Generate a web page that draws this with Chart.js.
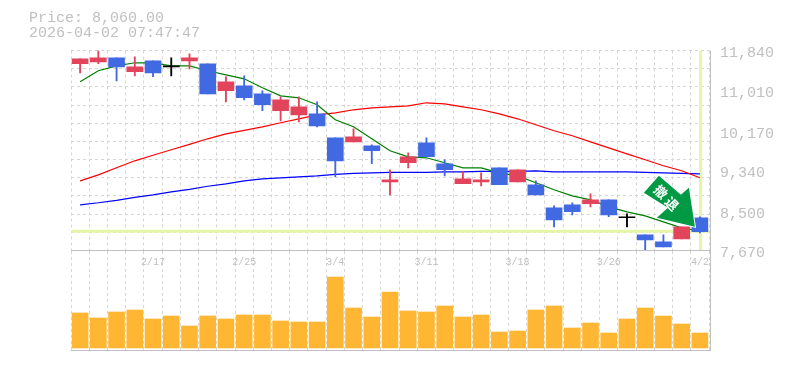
<!DOCTYPE html>
<html lang="en">
<head>
    <meta charset="UTF-8">
    <title>Price chart</title>
    <script src="https://cdn.jsdelivr.net/npm/chart.js"></script>
    <style>
    body { margin: 0; background: #ffffff; }
    #wrap { position: relative; width: 785px; height: 370px; overflow: hidden; }
    canvas { position: absolute; left: 0; top: 0; }
    #head {
        position: absolute; left: 29px; top: 11px; z-index: 3;
        font: 15px/15px "Liberation Mono", monospace;
        color: #c0c0c0; white-space: pre;
    }
    </style>
</head>
<body>
<div id="wrap">
    <canvas id="volumeChart" width="785" height="370"></canvas>
    <canvas id="priceChart" width="785" height="275"></canvas>
    <div id="head">Price: 8,060.00
2026-04-02 07:47:47</div>
</div>
<script>
const dates = ['2/10','2/12','2/13','2/16','2/17','2/18','2/19','2/20','2/24','2/25','2/26','2/27','3/2','3/3','3/4','3/5','3/6','3/9','3/10','3/11','3/12','3/13','3/16','3/17','3/18','3/19','3/23','3/24','3/25','3/26','3/27','3/30','3/31','4/1','4/2'];
const dateTicks = ['2/17','2/25','3/4','3/11','3/18','3/26','4/2'];

const opens  = [11563,11604,11688,11396,11625,11500,11625,11563,11000,11104,10937,10583,10499,10520,10020,9936,9853,9102,9499,9915,9478,9061,9102,9394,9102,9040,8560,8623,8644,8727,8352,7997,7851,7914,8352];
const closes = [11667,11688,11500,11500,11375,11500,11688,10937,11187,10854,10708,10812,10666,10270,9540,10041,9749,9144,9624,9624,9353,9165,9144,9040,9353,8831,8310,8477,8727,8414,8352,7893,7747,8164,8060];
const highs  = [11667,11840,11688,11709,11625,11688,11771,11563,11292,11312,11000,10875,10875,10770,10020,10207,9874,9353,9707,10020,9561,9311,9290,9394,9353,9123,8602,8665,8852,8727,8435,7997,7997,8164,8373];
const lows   = [11375,11563,11208,11312,11292,11312,11458,10937,10770,10812,10583,10374,10353,10249,9207,9936,9478,8831,9394,9624,9227,9061,9019,9040,9102,8831,8164,8414,8581,8373,8164,7670,7747,7914,8039];

const maShort  = [11187,11417,11521,11584,11584,11521,11521,11417,11333,11250,11062,10895,10854,10708,10395,10249,9999,9749,9624,9603,9499,9394,9394,9290,9227,9082,8936,8810,8727,8581,8477,8393,8268,8143,8081];
const maMiddle = [9123,9248,9394,9540,9655,9770,9884,9999,10103,10176,10249,10333,10416,10499,10541,10604,10645,10666,10687,10750,10729,10666,10604,10520,10416,10291,10166,10062,9936,9811,9686,9561,9436,9332,9186];
const maLong   = [8623,8665,8717,8779,8831,8894,8946,9009,9061,9123,9165,9186,9207,9227,9259,9280,9290,9300,9300,9300,9311,9311,9321,9321,9321,9332,9311,9311,9311,9311,9311,9300,9290,9280,9269];

const volumes = [35000,30000,36000,38000,29000,32000,22000,32000,29000,33000,33000,27000,26000,26000,71000,40000,31000,56000,37000,36000,42000,31000,33000,16000,17000,38000,42000,20000,25000,15000,29000,40000,32000,24000,15000];

const priceTicks = [7670,8500,9340,10170,11010,11840];
const priceGrid  = [7670,8049,8428,8807,9186,9565,9945,10324,10703,11082,11461,11840];
const lastPrice = 8060;
const signText = ['撤','退'];

const gridColor = '#d6d6d6';
const frameColor = '#c0c0c0';
const textColor = '#c0c0c0';
const monoFont = '"Liberation Mono", monospace';

function candleColor(i) {
    if (opens[i] === closes[i]) return '#000000';
    return closes[i] > opens[i] ? '#e2445c' : '#4169e1';
}
const candleColors = dates.map((d, i) => candleColor(i));

// solid right edge and the horizontal rule of each pane
function framePlugin(ruleRow) {
    return {
        id: 'frame',
        afterDraw(chart) {
            const a = chart.chartArea;
            const c = chart.ctx;
            c.save();
            c.strokeStyle = frameColor;
            c.lineWidth = 1;
            c.beginPath();
            c.moveTo(a.left, ruleRow(a));
            c.lineTo(a.right + 2, ruleRow(a));
            c.moveTo(a.right + 1.5, a.top);
            c.lineTo(a.right + 1.5, a.bottom);
            c.stroke();
            c.restore();
        }
    };
}

// pale lines crossing at the last session and the last price
const guidePlugin = {
    id: 'guides',
    beforeDatasetsDraw(chart) {
        const a = chart.chartArea;
        const c = chart.ctx;
        const px = chart.scales.x.getPixelForValue(dates.length - 1);
        const py = chart.scales.y.getPixelForValue(lastPrice);
        c.save();
        c.strokeStyle = '#e5f6a9';
        c.lineWidth = 3;
        c.beginPath();
        c.moveTo(a.left, py - 0.5);
        c.lineTo(a.right, py - 0.5);
        c.moveTo(px + 0.7, a.top);
        c.lineTo(px + 0.7, a.bottom);
        c.stroke();
        c.restore();
    }
};

// green sign arrow pointing at the last close
const signPlugin = {
    id: 'sign',
    afterDatasetsDraw(chart) {
        const c = chart.ctx;
        const tx = chart.scales.x.getPixelForValue(dates.length - 1) - 5;
        const ty = chart.scales.y.getPixelForValue(lastPrice) - 5;
        const shape = [[-36,-51],[-14,-32],[-6,-39],[0,0],[-38,-9],[-27,-19],[-51,-34]];
        c.save();
        c.translate(tx, ty);
        c.beginPath();
        shape.forEach((p, i) => i ? c.lineTo(p[0], p[1]) : c.moveTo(p[0], p[1]));
        c.closePath();
        c.fillStyle = '#009a44';
        c.strokeStyle = '#ffffff';
        c.lineWidth = 2;
        c.lineJoin = 'miter';
        c.stroke();
        c.fill();
        c.fillStyle = '#ffffff';
        c.font = 'bold 13px "Noto Sans CJK JP"';
        c.textAlign = 'center';
        c.textBaseline = 'middle';
        [[-34,-35],[-23,-23]].forEach((p, i) => {
            c.save();
            c.translate(p[0], p[1]);
            c.rotate(Math.PI / 4);
            c.fillText(signText[i], 0, 0);
            c.restore();
        });
        c.restore();
    }
};

const xGrid = { offset: true, color: gridColor, drawTicks: false };
const xBorder = { display: false, dash: [3, 3] };

new Chart(document.getElementById('priceChart'), {
    data: {
        labels: dates,
        datasets: [
            { type: 'bar', label: 'Body', data: opens.map((o, i) => [o, closes[i]]), backgroundColor: candleColors, barThickness: 16, minBarLength: 1, grouped: false, order: 1 },
            { type: 'bar', label: 'Wick', data: lows.map((l, i) => [l, highs[i]]), backgroundColor: candleColors, barThickness: 1.2, grouped: false, order: 2 },
            { type: 'line', label: 'MA short', data: maShort, borderColor: '#008000', borderWidth: 1.2, pointRadius: 0, tension: 0, order: 3 },
            { type: 'line', label: 'MA middle', data: maMiddle, borderColor: '#ff0000', borderWidth: 1.2, pointRadius: 0, tension: 0, order: 4 },
            { type: 'line', label: 'MA long', data: maLong, borderColor: '#0000ff', borderWidth: 1.2, pointRadius: 0, tension: 0, order: 5 }
        ]
    },
    options: {
        responsive: false,
        animation: false,
        layout: { padding: { left: 71, top: 50.5, right: 0, bottom: 0 } },
        plugins: { legend: { display: false }, tooltip: { enabled: false }, title: { display: false } },
        scales: {
            x: {
                type: 'category',
                offset: true,
                grid: xGrid,
                border: xBorder,
                ticks: {
                    autoSkip: false, maxRotation: 0, padding: 6, color: textColor,
                    font: { family: monoFont, size: 10 },
                    callback(v) { const d = this.getLabelForValue(v); return dateTicks.includes(d) ? d : ''; }
                },
                afterFit(s) { s.height = 24.5; }
            },
            y: {
                position: 'right', min: 7670, max: 11840,
                grid: { color: gridColor, drawTicks: false },
                border: { display: false, dash: [3, 3] },
                ticks: { display: false },
                afterBuildTicks(s) { s.ticks = priceGrid.map(v => ({ value: v })); },
                afterFit(s) { s.width = 0; }
            },
            yLabels: {
                position: 'right', min: 7670, max: 11840,
                grid: { display: false, drawTicks: false },
                border: { display: false },
                ticks: {
                    autoSkip: false, padding: 11, labelOffset: 3, color: textColor,
                    font: { family: monoFont, size: 15 },
                    callback(v) { return v.toLocaleString('en-US'); }
                },
                afterBuildTicks(s) { s.ticks = priceTicks.map(v => ({ value: v })); },
                afterFit(s) { s.width = 76; }
            }
        }
    },
    plugins: [guidePlugin, signPlugin, framePlugin(a => a.bottom)]
});

new Chart(document.getElementById('volumeChart'), {
    type: 'bar',
    data: {
        labels: dates,
        datasets: [{ label: 'Volume', data: volumes, backgroundColor: '#ffb733', barThickness: 16 }]
    },
    options: {
        responsive: false,
        animation: false,
        layout: { padding: { left: 71, top: 251, right: 76, bottom: 20 } },
        plugins: { legend: { display: false }, tooltip: { enabled: false } },
        scales: {
            x: {
                offset: true,
                grid: xGrid,
                border: xBorder,
                ticks: { display: false },
                afterFit(s) { s.height = 0; }
            },
            y: { display: false, min: -2000, max: 97000 }
        }
    },
    plugins: [framePlugin(a => a.bottom + 0.5)]
});
</script>
</body>
</html>
